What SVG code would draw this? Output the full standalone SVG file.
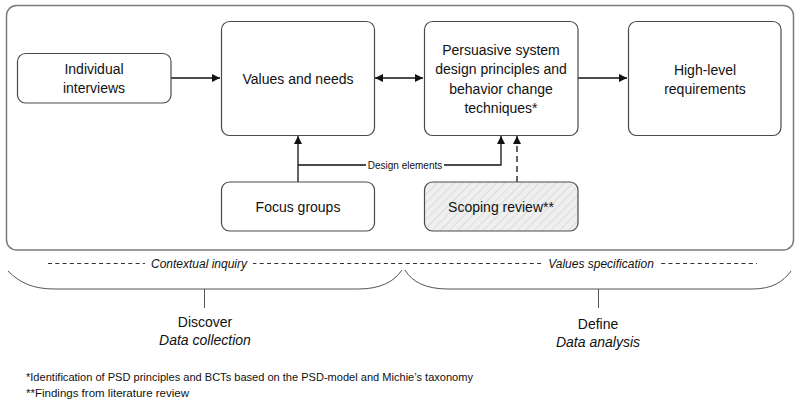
<svg xmlns="http://www.w3.org/2000/svg" width="800" height="408" viewBox="0 0 800 408">
<style>
text{font-family:"Liberation Sans",Arial,sans-serif;fill:#111}
.lbl{font-size:14px;text-anchor:middle}
.box{fill:#fff;stroke:#4a4a4a;stroke-width:1.2}
.conn{fill:none;stroke:#111;stroke-width:1.3}
.brace{fill:none;stroke:#555;stroke-width:1}
.it{font-style:italic}
</style>
<defs>
<marker id="ah" viewBox="0 0 10 10" refX="10" refY="5" markerWidth="8" markerHeight="8" markerUnits="userSpaceOnUse" orient="auto-start-reverse">
<path d="M0,0 L10,5 L0,10 Z" fill="#111"/>
</marker>
<pattern id="hatch" patternUnits="userSpaceOnUse" width="6" height="6" patternTransform="rotate(45)">
<rect width="6" height="6" fill="#efefef"/>
<line x1="0" y1="0" x2="0" y2="6" stroke="#d2d2d2" stroke-width="1.3"/>
</pattern>
</defs>
<rect x="0" y="0" width="800" height="408" fill="#fff"/>
<g id="frame">
<rect x="6.5" y="5.5" width="787" height="244.5" rx="10" fill="none" stroke="#7a7a7a" stroke-width="1.5"/>
</g>
<g id="connectors">
<line class="conn" x1="171" y1="78" x2="220" y2="78" marker-end="url(#ah)"/>
<line class="conn" x1="375" y1="78" x2="423" y2="78" marker-start="url(#ah)" marker-end="url(#ah)"/>
<line class="conn" x1="578" y1="78" x2="627" y2="78" marker-end="url(#ah)"/>
<line class="conn" x1="298" y1="182" x2="298" y2="136" marker-end="url(#ah)"/>
<polyline class="conn" points="298,165 501,165 501,136" marker-end="url(#ah)"/>
<line class="conn" x1="517" y1="182" x2="517" y2="136" stroke-dasharray="6,4" marker-end="url(#ah)"/>
<rect x="366" y="158" width="78" height="13" fill="#fff"/>
<text x="405" y="168.5" font-size="10" text-anchor="middle">Design elements</text>
</g>
<g id="individual">
<rect class="box" x="17.5" y="53.5" width="153.5" height="49.5" rx="8"/>
<text class="lbl" x="94" y="74">Individual</text>
<text class="lbl" x="94" y="93">interviews</text>
</g>
<g id="values">
<rect class="box" x="221.5" y="21.5" width="153" height="114" rx="8"/>
<text class="lbl" x="298" y="84">Values and needs</text>
</g>
<g id="psd">
<rect class="box" x="424.5" y="21.5" width="153.5" height="114" rx="8"/>
<text class="lbl" x="501" y="55">Persuasive system</text>
<text class="lbl" x="501" y="74">design principles and</text>
<text class="lbl" x="501" y="93.5">behavior change</text>
<text class="lbl" x="501" y="113">techniques*</text>
</g>
<g id="requirements">
<rect class="box" x="628.5" y="21.5" width="152.5" height="114" rx="8"/>
<text class="lbl" x="705" y="75">High-level</text>
<text class="lbl" x="705" y="94">requirements</text>
</g>
<g id="focus">
<rect class="box" x="221.5" y="182" width="153" height="49" rx="8"/>
<text class="lbl" x="298" y="212">Focus groups</text>
</g>
<g id="scoping">
<rect x="424.5" y="182" width="153.5" height="49" rx="8" fill="url(#hatch)" stroke="#4a4a4a" stroke-width="1.2"/>
<text class="lbl" x="501" y="212">Scoping review**</text>
</g>
<g id="phases">
<line x1="48" y1="263.5" x2="757" y2="263.5" stroke="#333" stroke-width="1" stroke-dasharray="4,3.3"/>
<rect x="145" y="255" width="108" height="16" fill="#fff"/>
<text class="it" x="199" y="267.5" font-size="12" text-anchor="middle">Contextual inquiry</text>
<rect x="543" y="255" width="116" height="16" fill="#fff"/>
<text class="it" x="601" y="267.5" font-size="12" text-anchor="middle">Values specification</text>
<path class="brace" d="M8,271 C20,283 33,289 55,289 L358,289 C380,289 394,282 402,270"/>
<path class="brace" d="M405,270 C412,282 426,289 448,289 L752,289 C772,289 783,282 791,271"/>
<line class="brace" x1="204.5" y1="289" x2="204.5" y2="308"/>
<line class="brace" x1="598.5" y1="289" x2="598.5" y2="308"/>
<text class="lbl" x="205" y="327">Discover</text>
<text class="lbl it" x="205" y="345" font-size="13.5">Data collection</text>
<text class="lbl" x="598" y="329">Define</text>
<text class="lbl it" x="598" y="347" font-size="13.5">Data analysis</text>
</g>
<g id="footnotes">
<text x="26" y="381" font-size="11" textLength="447" lengthAdjust="spacingAndGlyphs">*Identification of PSD principles and BCTs based on the PSD-model and Michie’s taxonomy</text>
<text x="26" y="397" font-size="11" textLength="163" lengthAdjust="spacingAndGlyphs">**Findings from literature review</text>
</g>
</svg>
